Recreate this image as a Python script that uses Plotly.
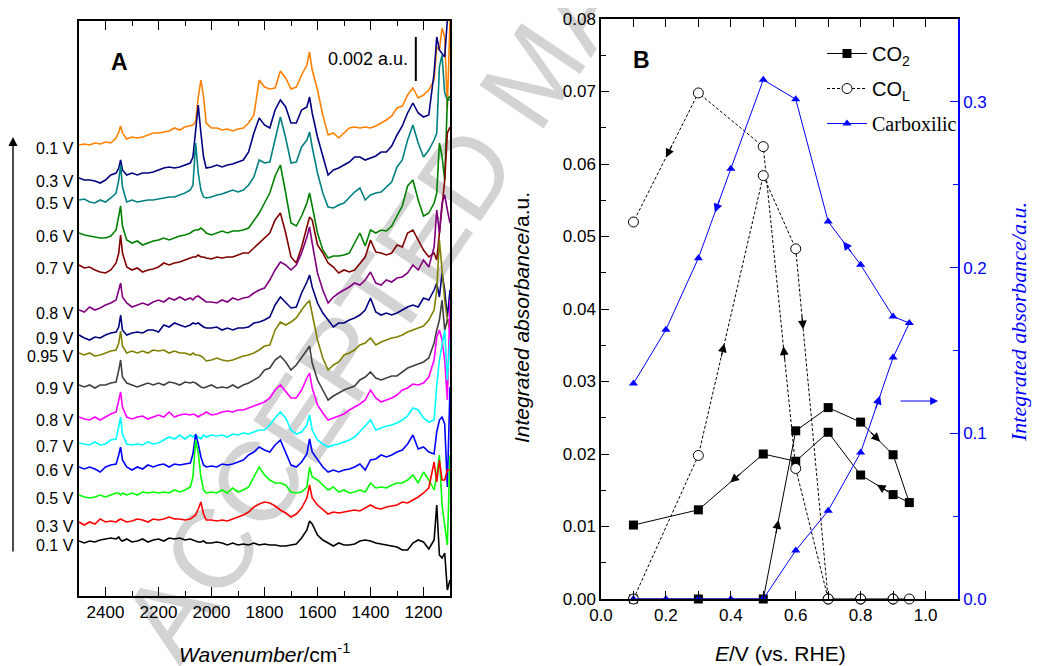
import plotly.graph_objects as go

# ---------------- Panel A data (spectra) ----------------
WAVENUMBER = [2500, 2480, 2460, 2440, 2420, 2400, 2380, 2360, 2350, 2343, 2336,
              2320, 2300, 2280, 2260, 2240, 2220, 2200, 2180, 2160, 2140, 2120, 2100, 2080,
              2070, 2060, 2050, 2040, 2030, 2020,
              2000, 1980, 1960, 1940, 1920, 1900, 1880, 1860, 1840, 1820, 1800, 1780, 1760,
              1740, 1720, 1700, 1680, 1660, 1640,
              1630, 1620,
              1600, 1580, 1560, 1540, 1520, 1500, 1480, 1460, 1440, 1420, 1400, 1380, 1360,
              1340, 1320, 1300, 1280, 1260, 1240, 1220, 1200, 1180, 1160,
              1150, 1140, 1130, 1120, 1110, 1100]

# intensities in units of (0.002/44) a.u., relative to each spectrum's start
A_01_UP = [0, 1, 0, 2, 1, 3, 2, 7, 13, 19, 12,
           6, 8, 7, 8, 10, 12, 12, 13, 14, 17, 15, 18, 19,
           20, 23, 48, 65, 48, 22,
           17, 17, 15, 16, 14, 16, 17, 22, 30, 65, 58, 56, 57, 74, 67, 56, 58, 70, 80,
           93, 75,
           55, 30, 10, 12, 7, 12, 17, 18, 17, 18, 17, 19, 22, 25, 29, 37, 39, 50, 57, 47, 50, 55, 65,
           98, 95, 117, 108, 37, 125]
A_03_UP = [0, -2, -2, -3, -5, -2, 3, 5, 10, 18, 8,
           3, 5, 3, 5, 5, 6, 8, 10, 11, 10, 11, 13, 15,
           21, 51, 73, 45, 21, 10,
           11, 13, 11, 13, 14, 16, 18, 26, 45, 60, 53, 50, 68, 78, 71, 55, 55, 68, 71,
           81, 65,
           41, 21, 3, 8, 10, 13, 16, 21, 21, 18, 20, 22, 26, 26, 32, 43, 52, 65, 75, 65, 61, 63, 105,
           141, 128, 125, 121, 158, 158]
A_05_UP = [0, 1, -2, -3, 0, -2, 2, 7, 20, 35, 13,
           -2, 0, -2, -1, 0, 0, 1, 2, 3, 3, 5, 7, 10,
           15, 57, 27, 10, 3, 2,
           3, 5, 6, 8, 10, 8, 10, 15, 23, 40, 37, 38, 60, 83, 62, 37, 38, 53, 60,
           68, 53,
           27, 7, -7, -8, -5, -3, 3, 8, 12, 0, 5, 7, 8, 13, 18, 33, 40, 60, 75, 57, 43, 50, 60,
           67, 133, 145, 107, 100, 100]
A_06_UP = [0, -2, -3, -4, -5, -5, -3, 3, 17, 27, 7,
           -7, -10, -8, -12, -10, -8, -7, -5, -7, -5, -3, -2, 0,
           2, 3, 3, 5, 3, 0,
           -2, 0, 2, 0, 2, 2, 3, 5, 12, 20, 30, 40, 57, 68, 40, 10, 7, 17, 30,
           40, 27,
           0, -17, -25, -23, -23, -22, -20, -10, 0, -13, 3, 0, 3, 2, 7, 17, 27, 47, 53, 33, 17, 20, 30,
           40, 90, 77, 53, 133, 137]
A_07_UP = [0, -3, -2, -5, -7, -8, -5, 2, 12, 30, 12,
           -2, -5, -3, -7, -5, -4, -2, 2, 0, 2, 3, 5, 7,
           8, 8, 10, 8, 8, 7,
           6, 8, 7, 8, 8, 10, 12, 12, 17, 22, 27, 32, 45, 52, 32, 8, 2, 18, 38,
           48, 45,
           20, 12, 2, -2, -8, -5, -7, -5, 2, 8, 25, 13, 12, 10, 12, 20, 18, 32, 35, 25, 15, 8, 12,
           5, 32, 65, 85, 132, 138]
A_08_UP = [0, -2, 3, 0, 2, 5, 7, 10, 20, 27, 13,
           7, 3, 5, 7, 5, 8, 10, 8, 12, 10, 13, 10, 12,
           10, 13, 14, 12, 10, 8,
           8, 7, 10, 8, 12, 10, 12, 13, 17, 20, 22, 30, 40, 48, 45, 40, 45, 57, 73,
           83, 67,
           37, 20, 7, 13, 17, 20, 23, 27, 25, 30, 38, 27, 25, 30, 28, 32, 33, 37, 45, 40, 50, 43, 63,
           100, 77, 107, 115, 100, 87]
A_09_UP = [0, -3, -5, -2, -3, 0, 2, 3, 8, 20, 5,
           0, 2, 3, 2, 5, 5, 3, 10, 8, 12, 10, 8, 10,
           12, 11, 12, 10, 8, 7,
           7, 8, 5, 7, 5, 7, 7, 8, 12, 13, 15, 18, 30, 38, 33, 27, 28, 42, 53,
           60, 48,
           32, 22, 15, 8, 12, 12, 15, 17, 20, 25, 37, 23, 20, 22, 20, 22, 25, 28, 30, 28, 37, 35, 45,
           52, 38, 62, 45, 18, 45]
A_095 = [0, -2, 0, -3, -2, 0, 2, 3, 10, 22, 7,
         0, 2, 0, 2, 0, 3, 2, 3, 0, 2, 0, 0, -2,
         0, -2, -2, -3, -5, -8,
         -7, -5, -7, -8, -7, -5, -3, -2, 0, 3, 7, 8, 23, 31, 28, 31, 35, 43, 50,
         52, 38,
         13, -5, -17, -12, -9, -2, 0, 3, 8, 10, 15, 8, 11, 13, 15, 16, 18, 21, 23, 25, 27, 33, 43,
         63, 113, 83, 53, 33, 23]
A_09_DN = [0, -2, 0, -3, 0, 0, 2, 3, 15, 25, 8,
           2, 0, -2, 0, 2, 0, 2, 0, 3, 2, 0, 3, 2,
           3, 2, 0, -2, -3, -2,
           0, -3, -2, -3, 0, -3, 0, 2, 5, 8, 15, 17, 25, 29, 23, 15, 20, 27, 35,
           39, 22,
           5, -5, -15, -11, -8, -5, -3, -1, 5, 8, 13, 7, 5, 7, 9, 9, 13, 17, 19, 21, 23, 27, 42,
           55, 65, 85, 55, 65, 65]
A_08_DN = [0, -2, -3, 0, -3, 0, 3, 5, 17, 25, 10,
           0, -2, 0, 1, -2, 0, 2, 0, 5, 0, 2, 3, 2,
           3, 2, 0, 2, 3, 5,
           2, 3, 5, 6, 5, 7, 7, 9, 11, 13, 15, 19, 27, 32, 25, 19, 19, 27, 39,
           44, 29,
           12, 4, -3, -1, 1, 3, 7, 10, 13, 17, 27, 19, 15, 17, 19, 22, 27, 29, 33, 32, 34, 40, 57,
           80, 87, 77, 57, 17, 117]
A_07_DN = [0, -1, -2, 1, -2, -1, 3, 4, 16, 26, 9,
           -1, -2, -1, -2, 1, -1, 0, 3, 6, 4, 8, 4, 8,
           6, 8, 6, 4, 8, 6,
           8, 7, 8, 6, 9, 8, 10, 9, 11, 13, 13, 18, 25, 31, 25, 13, 9, 11, 18,
           28, 13,
           3, -1, -4, -2, -1, 1, 3, 6, 11, 17, 23, 13, 15, 17, 18, 20, 23, 27, 35, 33, 25, 21, 23,
           58, 83, 100, 113, 63, 103]
A_06_DN = [0, -2, 0, -2, -5, 0, 2, 3, 12, 20, 7,
           0, -3, 0, -2, 2, 0, 2, 3, 0, 3, 2, 3, 4,
           13, 33, 23, 10, 2, 0,
           1, 0, 3, 2, 3, 5, 7, 12, 15, 20, 17, 15, 22, 27, 15, 2, 0, 5, 13,
           28, 15,
           7, 0, -5, -3, -5, -3, -2, 0, 3, -3, 7, 8, 12, 10, 12, 15, 17, 23, 32, 18, 20, 15, 13,
           35, 47, 50, 43, -20, 80]
A_05_DN = [0, -2, -3, -2, 0, -2, 0, 2, 2, 0, 2,
           0, 2, 0, 3, 2, 3, 2, 3, 2, 5, 3, 5, 8,
           18, 55, 42, 18, 5, 2,
           3, 2, 5, 2, 7, 3, 5, 8, 18, 28, 20, 15, 12, 12, 10, 3, 2, 3, 8,
           28, 18,
           15, 10, 5, 8, 3, 5, 2, 3, 5, 3, 12, 7, 8, 7, 10, 12, 12, 15, 20, 12, 23, 15, 5,
           20, 40, -10, -30, -50, 40]
A_03_DN = [0, -3, 0, -2, 3, 0, 1, 0, 2, 3, 2,
           0, 1, 3, 2, 0, 3, 2, 3, 5, 3, 3, 2, 3,
           5, 7, 13, 20, 8, 2,
           2, 1, 2, 1, 3, 5, 7, 10, 15, 18, 20, 19, 16, 12, 9, 5, 8, 14, 24,
           37, 24,
           17, 12, 8, 10, 9, 10, 11, 12, 11, 14, 17, 14, 13, 15, 16, 17, 20, 19, 22, 25, 29, 34, 60,
           40, 62, 42, 42, 52, 52]
A_01_DN = [0, -2, 0, -1, 1, 2, 3, 2, 4, 1, 0,
           2, -1, 0, 2, -1, 1, 2, 0, 3, 2, 3, 1, 2,
           1, 0, -1, -1, 0, -2,
           -2, -1, -2, -4, -2, -4, -3, -4, -2, -4, -3, -4, -4, -5, -5, -4, -3, 3, 11,
           20, 17,
           6, 1, -2, -5, -2, -4, -4, -3, 0, 1, 0, -2, -3, -4, -5, -6, -9, -9, -2, 1, -1, -8, 1,
           36, -14, -17, -12, -49, -39]

SPECTRA = [A_01_UP, A_03_UP, A_05_UP, A_06_UP, A_07_UP, A_08_UP, A_09_UP, A_095,
           A_09_DN, A_08_DN, A_07_DN, A_06_DN, A_05_DN, A_03_DN, A_01_DN]
SPEC_LABELS = ["0.1 V", "0.3 V", "0.5 V", "0.6 V", "0.7 V", "0.8 V", "0.9 V", "0.95 V",
               "0.9 V", "0.8 V", "0.7 V", "0.6 V", "0.5 V", "0.3 V", "0.1 V"]
SPEC_OFFSETS = [451, 418, 396, 363, 331, 286, 261, 243, 211, 179, 153, 129, 101, 74, 55]
SPEC_COLORS = ["#FF8000", "#000080", "#008080", "#008000", "#800000", "#800080", "#000080",
               "#808000", "#404040", "#FF00FF", "#00FFFF", "#0000FF", "#00FF00", "#FF0000", "#000000"]
UNIT_AU = 0.002 / 44.0          # a.u. per intensity unit
SCALEBAR_AU = 0.002
XTICKS_A = [2400, 2200, 2000, 1800, 1600, 1400, 1200]

# ---------------- Panel B data ----------------
E_SCAN = [0.1, 0.3, 0.5, 0.6, 0.7, 0.8, 0.9, 0.95, 0.9, 0.8, 0.7, 0.6, 0.5, 0.3, 0.1]
CO2 = [0, 0, 0, 0.0232, 0.0264, 0.0244, 0.0199, 0.0133, 0.0144, 0.0171, 0.0230, 0.0190, 0.0200, 0.0123, 0.0102]
CO_L = [0, 0.0198, 0.0584, 0.0483, 0, 0, 0, 0, 0, 0, 0, 0.0180, 0.0624, 0.0698, 0.0520]
E_CARB = [0.1, 0.2, 0.3, 0.4, 0.5, 0.6, 0.7, 0.8, 0.9, 0.95, 0.9, 0.8, 0.7, 0.6, 0.5, 0.4, 0.3, 0.2, 0.1]
CARBOXILIC = [0, 0, 0, 0, 0, 0.0293, 0.0533, 0.0884, 0.1457, 0.1665, 0.1705, 0.2017, 0.2278,
              0.3016, 0.3133, 0.2596, 0.2057, 0.1625, 0.130]
# scan-direction arrows: (segment start index, fraction along segment)
ARROWS_CO2 = [(2, 0.47), (5, 0.6), (8, 0.5), (12, 0.51)]
ARROWS_COL = [(13, 0.5), (3, 0.23), (1, 0.40), (11, 0.38)]
ARROWS_CARB = [(15, 0.49), (11, 0.54), (7, 0.6)]

assert all(len(s) == len(WAVENUMBER) for s in SPECTRA)

# ---------------- layout helpers ----------------
W, H = 1046, 666
PAGE_OFFSET = 8          # the page body margin shifts the figure by this many pixels
def px(x):
    return (x - PAGE_OFFSET) / W
def py(y):
    return 1 - (y - PAGE_OFFSET) / H

A_X = [79, 450]; A_Y = [21, 596]
B_X = [601, 958]; B_Y = [19, 599]
A_YMAX = (A_Y[1] - A_Y[0]) * UNIT_AU
B_XR = [0, 1.1]; B_Y2R = [0, 0.08]; B_Y3R = [0, 0.35]

FONT = "Liberation Sans, Arial, sans-serif"
SERIF = "Liberation Serif, Times New Roman, serif"

fig = go.Figure()

# spectra
for spec, off, col in zip(SPECTRA, SPEC_OFFSETS, SPEC_COLORS):
    fig.add_trace(go.Scatter(x=WAVENUMBER, y=[(off + v) * UNIT_AU for v in spec],
                             mode="lines", line=dict(color=col, width=1.6),
                             xaxis="x", yaxis="y", showlegend=False, hoverinfo="skip"))

# panel B traces
fig.add_trace(go.Scatter(x=E_SCAN, y=CO2, mode="lines+markers", name="CO<sub>2</sub>",
                         line=dict(color="black", width=1),
                         marker=dict(symbol="square", size=9, color="black"),
                         xaxis="x2", yaxis="y2", cliponaxis=False, legendgroup="a"))
fig.add_trace(go.Scatter(x=E_SCAN, y=CO_L, mode="lines+markers", name="CO<sub>L</sub>",
                         line=dict(color="black", width=1, dash="3px,2px"),
                         marker=dict(symbol="circle", size=10, color="white",
                                     line=dict(color="black", width=1)),
                         xaxis="x2", yaxis="y2", cliponaxis=False, legendgroup="b"))
fig.add_trace(go.Scatter(x=E_CARB, y=CARBOXILIC, mode="lines+markers",
                         name='<span style="font-family:Liberation Serif,serif">Carboxilic</span>',
                         line=dict(color="#0000FF", width=1),
                         marker=dict(symbol="triangle-up", size=8, color="#0000FF"),
                         xaxis="x2", yaxis="y3", cliponaxis=False, legendgroup="c"))

annotations = []

def label(x, y, text, size, family=FONT, color="black", angle=0):
    return dict(x=px(x), y=py(y), xref="paper", yref="paper", xanchor="center",
                yanchor="middle", text=text, textangle=angle, showarrow=False,
                font=dict(family=family, size=size, color=color))

# voltage labels
for lab, off in zip(SPEC_LABELS, SPEC_OFFSETS):
    annotations.append(dict(x=px(76), xref="paper", xanchor="right", y=(off - 4) * UNIT_AU,
                            yref="y", yanchor="middle", text=lab, showarrow=False,
                            font=dict(family=FONT, size=16, color="black")))

# potential-direction arrow on the left
annotations.append(dict(x=px(13), y=py(137), xref="paper", yref="paper", ax=0, ay=416,
                        showarrow=True, arrowhead=2, arrowsize=1.3, arrowwidth=1.4,
                        arrowcolor="black", text=""))

# scale bar text
bar_top = (A_Y[1] - 37) * UNIT_AU
bar_x = 1229
annotations.append(dict(x=bar_x, y=bar_top - SCALEBAR_AU / 2, xref="x", yref="y",
                        xanchor="right", yanchor="middle", xshift=-6, text="0.002 a.u.",
                        showarrow=False, font=dict(family=FONT, size=18, color="black")))

# panel letters
annotations.append(label(119, 62, "<b>A</b>", 23))
annotations.append(label(641, 60, "<b>B</b>", 23))

# axis titles
annotations.append(label(264, 653, "<i>Wavenumber</i>/cm<sup>-1</sup>", 21))
annotations.append(label(780, 653, "<i>E</i>/V (vs. RHE)", 21))
annotations.append(label(521, 318, "<i>Integrated absorbance</i>/a.u.", 21, angle=-90))
annotations.append(label(1019, 322, "<i>Integrated absorbance/a.u.</i>", 22, family=SERIF,
                         color="#0000FF", angle=-90))

# blue arrow pointing to right axis
annotations.append(dict(x=px(938), y=py(401), xref="paper", yref="paper", ax=-39, ay=0,
                        showarrow=True, arrowhead=2, arrowsize=1.3, arrowwidth=1.2,
                        arrowcolor="#0000FF", text=""))

# scan direction arrows on the curves
SX = (B_X[1] - B_X[0]) / (B_XR[1] - B_XR[0])
SY2 = (B_Y[1] - B_Y[0]) / (B_Y2R[1] - B_Y2R[0])
SY3 = (B_Y[1] - B_Y[0]) / (B_Y3R[1] - B_Y3R[0])

def seg_arrow(xs, ys, i, t, sy, yref, color, length=15):
    x0, y0, x1, y1 = xs[i], ys[i], xs[i + 1], ys[i + 1]
    hx, hy = x0 + t * (x1 - x0), y0 + t * (y1 - y0)
    dxp, dyp = (x1 - x0) * SX, (y1 - y0) * sy
    L = (dxp ** 2 + dyp ** 2) ** 0.5
    return dict(x=hx, y=hy, xref="x2", yref=yref, ax=-dxp / L * length, ay=dyp / L * length,
                showarrow=True, arrowhead=2, arrowsize=1.6, arrowwidth=1.1,
                arrowcolor=color, text="")

for i, t in ARROWS_CO2:
    annotations.append(seg_arrow(E_SCAN, CO2, i, t, SY2, "y2", "black"))
for i, t in ARROWS_COL:
    annotations.append(seg_arrow(E_SCAN, CO_L, i, t, SY2, "y2", "black"))
for i, t in ARROWS_CARB:
    annotations.append(seg_arrow(E_CARB, CARBOXILIC, i, t, SY3, "y3", "#0000FF"))

shapes = [
    # scale bar
    dict(type="line", xref="x", yref="y", x0=bar_x, x1=bar_x, y0=bar_top - SCALEBAR_AU, y1=bar_top,
         line=dict(color="black", width=2)),
    # watermark
    dict(type="rect", xref="paper", yref="paper", x0=px(520), x1=px(530), y0=py(72), y1=py(62),
         line=dict(width=0), fillcolor="rgba(0,0,0,0)", layer="below",
         label=dict(text="ACCEPTED MANUSCRIPT", textangle=-56, textposition="middle center",
                    font=dict(family=FONT, size=112, color="#d3d3d3"))),
]

axis_common = dict(showgrid=False, zeroline=False, showline=True, linecolor="black",
                   linewidth=1.5, tickcolor="black", tickwidth=1.3, automargin=False,
                   tickfont=dict(family=FONT, size=17, color="black"))

fig.update_layout(
    width=W, height=H, autosize=False,
    margin=dict(l=0, r=0, t=0, b=0, pad=0, autoexpand=False),
    paper_bgcolor="white", plot_bgcolor="rgba(0,0,0,0)",
    showlegend=True,
    legend=dict(x=px(822), y=py(34), xanchor="left", yanchor="top",
                bgcolor="rgba(0,0,0,0)", font=dict(family=FONT, size=20, color="black"),
                tracegroupgap=6, traceorder="grouped", itemwidth=40),
    xaxis=dict(domain=[px(A_X[0]), px(A_X[1])], range=[2500, 1100], anchor="y",
               tickvals=XTICKS_A, ticks="inside", ticklen=9, mirror="allticks",
               minor=dict(dtick=100, ticks="inside", ticklen=5, tickwidth=1.3, tickcolor="black"),
               **axis_common),
    yaxis=dict(domain=[py(A_Y[1]), py(A_Y[0])], range=[0, A_YMAX], anchor="x",
               showticklabels=False, ticks="", mirror=True, automargin=False,
               showgrid=False, zeroline=False, showline=True, linecolor="black", linewidth=1.5),
    xaxis2=dict(domain=[px(B_X[0]), px(B_X[1])], range=B_XR, anchor="y2",
                dtick=0.2, tick0=0, tickformat=".1f", ticks="inside", ticklen=8, mirror="allticks",
                minor=dict(dtick=0.1, ticks="inside", ticklen=7, tickwidth=1.3, tickcolor="black"),
                **axis_common),
    yaxis2=dict(domain=[py(B_Y[1]), py(B_Y[0])], range=B_Y2R, anchor="x2",
                dtick=0.01, tickformat=".2f", ticks="inside", ticklen=8,
                minor=dict(dtick=0.005, ticks="inside", ticklen=5, tickwidth=1.3, tickcolor="black"),
                **axis_common),
    yaxis3=dict(range=B_Y3R, anchor="x2", overlaying="y2", side="right",
                dtick=0.1, tickformat=".1f", ticks="inside", ticklen=8, automargin=False,
                showgrid=False, zeroline=False, showline=True, linecolor="#0000FF", linewidth=1.5,
                tickcolor="#0000FF", tickwidth=1.3,
                tickfont=dict(family=FONT, size=17, color="#0000FF"),
                minor=dict(dtick=0.05, ticks="inside", ticklen=5, tickwidth=1.3, tickcolor="#0000FF")),
    annotations=annotations,
    shapes=shapes,
)

fig.write_html("out.html")
